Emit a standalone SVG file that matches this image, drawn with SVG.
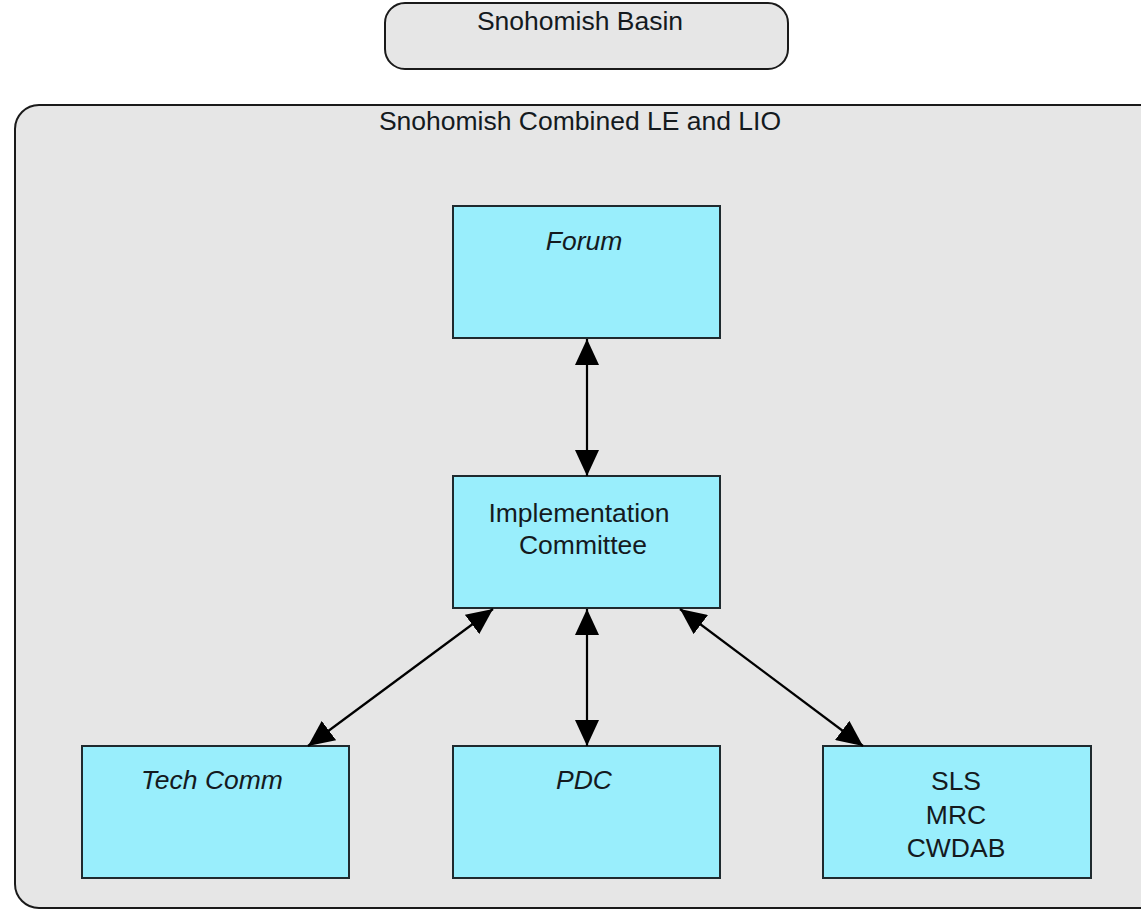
<svg xmlns="http://www.w3.org/2000/svg" width="1141" height="910" viewBox="0 0 1141 910">
  <style>
    .frame { fill: #e6e6e6; stroke: #1a1a1a; stroke-width: 2; }
    .box { fill: #99eefc; stroke: #1f2a2e; stroke-width: 2; }
    .lbl { font-family: "Liberation Sans", Arial, sans-serif; font-size: 26.5px; fill: #141a1e; text-anchor: middle; }
    .it { font-style: italic; }
    .link { stroke: #000; stroke-width: 2.2; fill: none; marker-start: url(#head); marker-end: url(#head); }
  </style>
  <defs>
    <marker id="head" viewBox="0 0 26 24" refX="26" refY="12" markerWidth="26" markerHeight="24" markerUnits="userSpaceOnUse" orient="auto-start-reverse">
      <path d="M0,0 L26,12 L0,24 Z" fill="#000"/>
    </marker>
  </defs>

  <rect width="1141" height="910" fill="#ffffff"/>

  <!-- basin header -->
  <g id="basin">
    <rect class="frame" x="385" y="3" width="403" height="66" rx="20"/>
    <text class="lbl" x="580" y="30">Snohomish Basin</text>
  </g>

  <!-- combined LE / LIO container -->
  <g id="combined">
    <rect class="frame" x="15" y="105" width="1160" height="803" rx="24"/>
    <text class="lbl" x="580" y="130">Snohomish Combined LE and LIO</text>
  </g>

  <g id="forum">
    <rect class="box" x="453" y="206" width="267" height="132"/>
    <text class="lbl it" x="584" y="250">Forum</text>
  </g>

  <g id="implementation">
    <rect class="box" x="453" y="476" width="267" height="132"/>
    <text class="lbl" x="579" y="522">Implementation</text>
    <text class="lbl" x="583" y="554">Committee</text>
  </g>

  <g id="techcomm">
    <rect class="box" x="82" y="746" width="267" height="132"/>
    <text class="lbl it" x="212" y="789">Tech Comm</text>
  </g>

  <g id="pdc">
    <rect class="box" x="453" y="746" width="267" height="132"/>
    <text class="lbl it" x="584" y="789">PDC</text>
  </g>

  <g id="sls">
    <rect class="box" x="823" y="746" width="268" height="132"/>
    <text class="lbl" x="956" y="790">SLS</text>
    <text class="lbl" x="956" y="824">MRC</text>
    <text class="lbl" x="956" y="857">CWDAB</text>
  </g>

  <g id="connectors">
    <line class="link" x1="587" y1="339" x2="587" y2="476"/>
    <line class="link" x1="587" y1="609" x2="587" y2="746"/>
    <line class="link" x1="493" y1="609" x2="308" y2="746"/>
    <line class="link" x1="680" y1="609" x2="863" y2="746"/>
  </g>
</svg>
